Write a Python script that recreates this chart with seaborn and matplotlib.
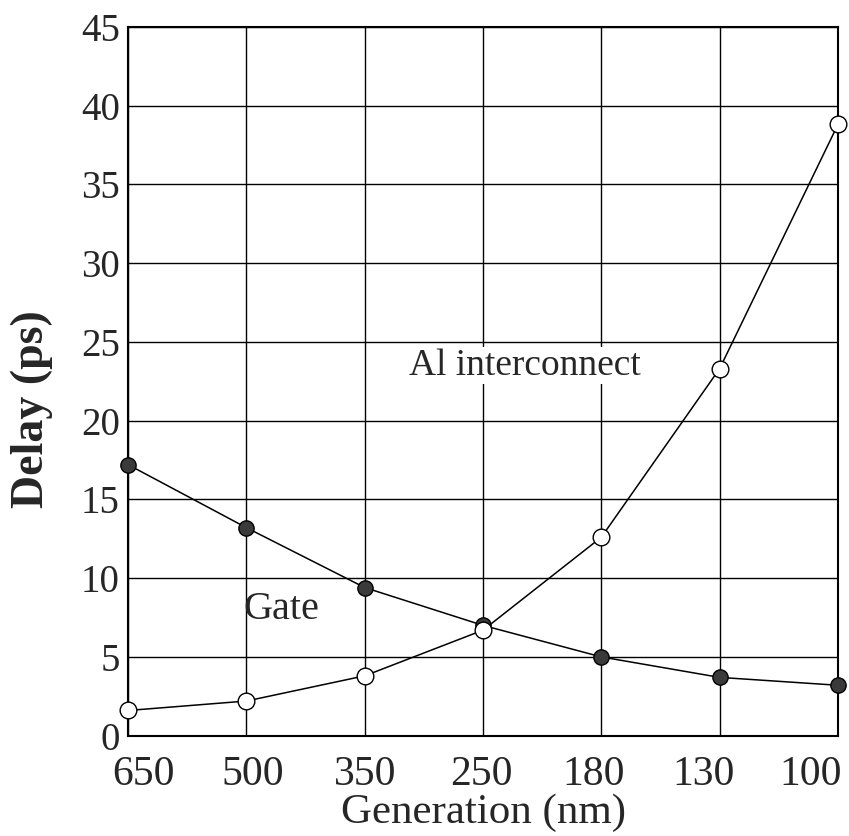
import matplotlib
matplotlib.use("Agg")
import matplotlib.pyplot as plt
import matplotlib.transforms as mtrans
import seaborn as sns
import pandas as pd

# data
generations = ["650", "500", "350", "250", "180", "130", "100"]
gate_delay = [17.2, 13.2, 9.4, 7.0, 5.0, 3.7, 3.2]
al_delay = [1.6, 2.2, 3.8, 6.7, 12.6, 23.3, 38.8]
y_ticks = [0, 5, 10, 15, 20, 25, 30, 35, 40, 45]

df = pd.DataFrame({
    "pos": list(range(len(generations))) * 2,
    "delay": gate_delay + al_delay,
    "series": ["Gate"] * len(generations) + ["Al interconnect"] * len(generations),
})

sns.set_style("white")
plt.rcParams["font.family"] = ["Liberation Serif", "DejaVu Serif"]

fig = plt.figure(figsize=(8.49, 8.36), dpi=100)
ax = fig.add_axes([0.151, 0.12, 0.836, 0.848])

gate = df[df["series"] == "Gate"]
al = df[df["series"] == "Al interconnect"]

sns.lineplot(data=gate, x="pos", y="delay", ax=ax, color="black", linewidth=1.1,
             marker="o", markersize=11, markerfacecolor="#3a3a3a",
             markeredgecolor="black", markeredgewidth=1, clip_on=False, zorder=3)
sns.lineplot(data=al, x="pos", y="delay", ax=ax, color="black", linewidth=1.1,
             marker="o", markersize=12, markerfacecolor="white",
             markeredgecolor="black", markeredgewidth=1, clip_on=False, zorder=4)

ax.set_xlim(0, len(generations) - 1)
ax.set_ylim(0, 45)
ax.set_xticks(range(len(generations)))
ax.set_xticklabels(generations, fontsize=30)
ax.set_yticks(y_ticks)
ax.set_yticklabels([str(t) for t in y_ticks], fontsize=28)
ax.tick_params(axis="both", length=0, pad=6)
ax.tick_params(axis="x", pad=14)

# the scanned labels drift left across the axis
shifts = [15, 6, 0, -2, -8, -16, -27]
for lab, dx in zip(ax.get_xticklabels(), shifts):
    lab.set_transform(lab.get_transform() + mtrans.ScaledTranslation(dx / 100, 0, fig.dpi_scale_trans))

ax.grid(True, color="black", linewidth=1)
ax.set_axisbelow(True)
for s in ax.spines.values():
    s.set_color("black")
    s.set_linewidth(1.5)

ax.set_xlabel("Generation (nm)", fontsize=31, labelpad=0)
ax.set_ylabel("Delay (ps)", fontsize=33, fontweight="bold")
ax.yaxis.set_label_coords(-0.106, 0.46)

ax.text(0.97, 7.4, "Gate", fontsize=29, va="baseline", ha="left")
ax.text(2.37, 23.5, "Al interconnect", fontsize=27, va="center", ha="left",
        bbox=dict(facecolor="white", edgecolor="none", pad=1))

fig.savefig("out.png", dpi=100)
